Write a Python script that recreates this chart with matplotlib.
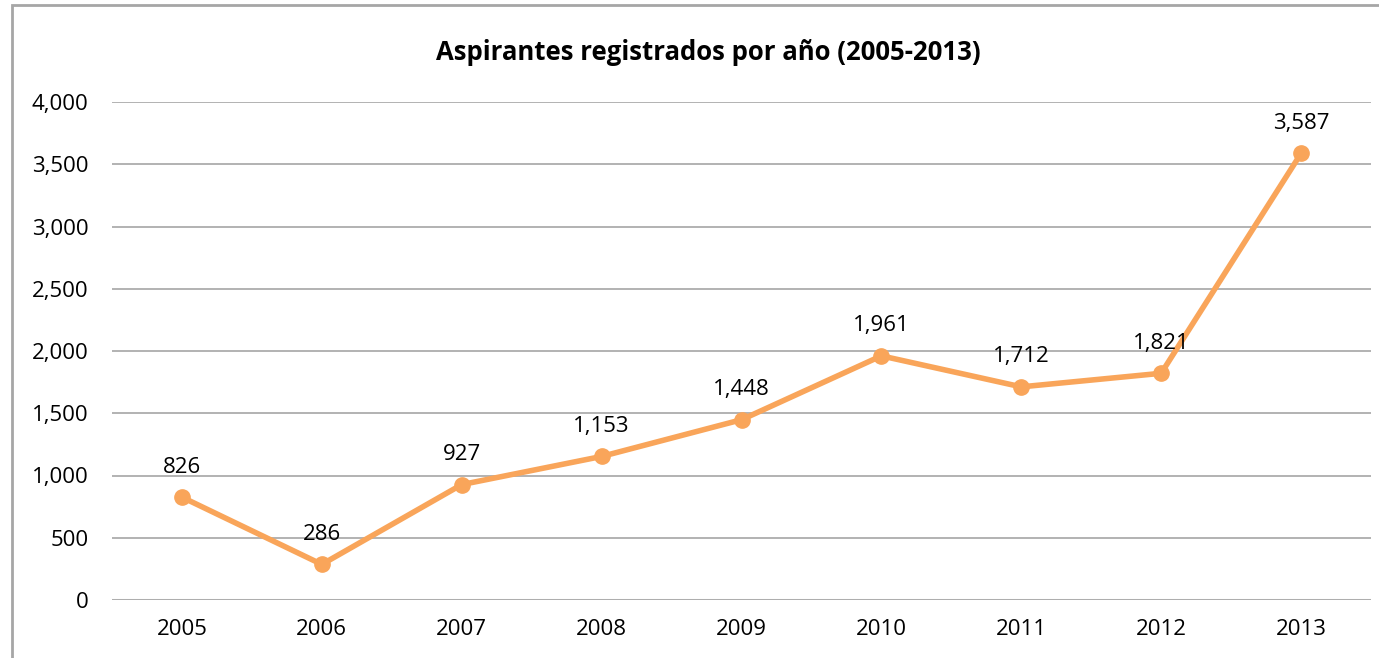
import matplotlib.pyplot as plt
from matplotlib.ticker import FuncFormatter
from matplotlib.patches import Rectangle

years = ["2005", "2006", "2007", "2008", "2009", "2010", "2011", "2012", "2013"]
aspirantes = [826, 286, 927, 1153, 1448, 1961, 1712, 1821, 3587]
yticks = [0, 500, 1000, 1500, 2000, 2500, 3000, 3500, 4000]

plt.rcParams['font.family'] = ['Open Sans', 'DejaVu Sans']
orange = '#F9A55A'

fig = plt.figure(figsize=(13.79, 6.58), dpi=100)
ax = fig.add_axes([112 / 1379, 1 - 600 / 658, (1371 - 112) / 1379, (600 - 102) / 658])

x = list(range(len(years)))
ax.plot(x, aspirantes, color=orange, linewidth=4, marker='o', markersize=11,
        solid_capstyle='round')
for xi, v in zip(x, aspirantes):
    ax.annotate(f"{v:,}", (xi, v), xytext=(0, 14), textcoords='offset points',
                ha='center', va='bottom', fontsize=16, color='black')

ax.set_xlim(-0.5, len(years) - 0.5)
ax.set_ylim(0, 4000)
ax.set_yticks(yticks)
ax.yaxis.set_major_formatter(FuncFormatter(lambda v, p: f"{int(v):,}"))
ax.set_xticks(x)
ax.set_xticklabels(years)
ax.tick_params(axis='both', length=0, labelsize=16, colors='black')
ax.tick_params(axis='y', pad=17)
ax.tick_params(axis='x', pad=14)
ax.grid(axis='y', color='#A6A6A6', linewidth=1.2)
ax.set_axisbelow(True)
for s in ax.spines.values():
    s.set_visible(False)
ax.axhline(0, color='#D9D9D9', linewidth=1.5, zorder=0)

fig.text(708 / 1379, 1 - 53 / 658, "Aspirantes registrados por año (2005-2013)",
         ha='center', va='center', fontsize=18.5, fontweight='bold')

fig.patches.append(Rectangle((12 / 1379, -0.1), 1.2, 1 - 5 / 658 + 0.1,
                             transform=fig.transFigure, fill=False,
                             edgecolor='#A6A6A6', linewidth=2))

fig.savefig("out.png", dpi=100)
